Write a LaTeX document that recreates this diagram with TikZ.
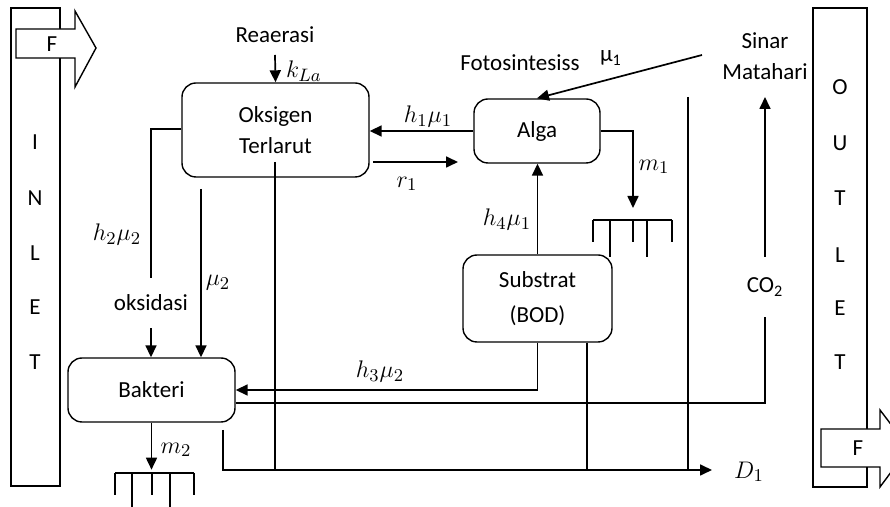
\documentclass[tikz,border=0pt]{standalone}
\usepackage{fontspec}
\setmainfont{Carlito}
\usetikzlibrary{arrows.meta,calc}
\newcommand\myfs{\fontsize{11.5}{15.5}\selectfont}
\newcommand\mymathfs{\fontsize{12.5}{15}\selectfont}
\begin{document}
\begin{tikzpicture}[x=0.5pt,y=-0.5pt,
  ln/.style={line width=0.65pt},
  arr/.style={line width=0.85pt,-{Triangle[length=6pt,width=5.5pt]}},
  box/.style={draw,line width=0.7pt,rounded corners=7pt,align=center,inner sep=0pt,font=\myfs},
  txt/.style={inner sep=0pt,font=\myfs,align=center},
  mth/.style={inner sep=0pt,font=\mymathfs},
  col/.style={draw,line width=0.7pt,inner sep=0pt},
  farrow/.style={draw,line width=0.7pt,fill=white}]
\useasboundingbox (0,0) rectangle (890,507);
% inlet / outlet columns
\node[col,minimum width=24.5pt,minimum height=239pt] (inlet) at (35.5,247) {};
\node[col,minimum width=27pt,minimum height=239.5pt] (outlet) at (840,247.5) {};
\node[txt] (iI) at (35,142) {I};
\node[txt] (iN) at (35,198) {N};
\node[txt] (iL) at (35,253) {L};
\node[txt] (iE) at (35,307) {E};
\node[txt] (iT) at (35,362) {T};
\node[txt] (oO) at (840,87) {O};
\node[txt] (oU) at (840,143) {U};
\node[txt] (oT) at (840,198) {T};
\node[txt] (oL) at (840,255) {L};
\node[txt] (oE) at (840,308) {E};
\node[txt] (oT2) at (840,362) {T};
% F arrows
\draw[farrow] (16,29) -- (75,29) -- (75,11) -- (96,48) -- (75,87) -- (75,58) -- (16,58) -- cycle;
\node[txt] (fin) at (52,44) {F};
\draw[farrow] (821,429) -- (880,429) -- (880,410) -- (909,448) -- (880,487) -- (880,467) -- (821,467) -- cycle;
\node[txt] (fout) at (858,448) {F};
% boxes
\node[box,minimum width=93.5pt,minimum height=47pt] (oks) at (275.5,130) {Oksigen\\Terlarut};
\node[box,minimum width=63pt,minimum height=32pt] (alga) at (537,131) {Alga};
\node[box,minimum width=74.5pt,minimum height=43.5pt] (sub) at (537.5,298.5) {Substrat\\[2pt](BOD)};
\node[box,minimum width=83.5pt,minimum height=32pt] (bak) at (151.5,390) {Bakteri};
% labels
\node[txt] (rea) at (275,35) {Reaerasi};
\node[mth] (kla) at (304,71) {$k_{La}$};
\node[txt] (foto) at (520,63) {Fotosintesiss};
\node[txt] (mu1) at (611,58) {µ\textsubscript{1}};
\node[txt] (sinar) at (765,56) {Sinar\\Matahari};
\node[mth] (h1) at (428,117) {$h_1\mu_1$};
\node[mth] (r1) at (407,184) {$r_1$};
\node[mth] (m1) at (654,167) {$m_1$};
\node[mth] (h4) at (507,220) {$h_4\mu_1$};
\node[mth] (h2) at (117,235) {$h_2\mu_2$};
\node[mth] (mu2) at (218,283) {$\mu_2$};
\node[txt,minimum height=25pt] (oksd) at (151,303) {oksidasi};
\node[mth] (h3) at (380,372) {$h_3\mu_2$};
\node[mth] (m2) at (176,450) {$m_2$};
\node[txt,minimum height=30pt] (co2) at (765,287) {CO\textsubscript{2}};
\node[mth] (d1) at (749,472) {$D_1$};
% free-end coordinates
\coordinate (reaend) at (275,55);
\coordinate (r1a) at (373,162);
\coordinate (r1b) at (458,162);
\coordinate (sun) at (702,55);
\coordinate (v1top) at (688,97);
\coordinate (v1bot) at (688,470);
\coordinate (m1end) at (633,208);
\coordinate (bl3) at (587,470);
\coordinate (sunarr) at (765,97);
\coordinate (mu2top) at (201,189);
\coordinate (oin) at (275,162);
\coordinate (bl1) at (275,470);
\coordinate (b0) at (223,430);
\coordinate (bend) at (712,470);
% connectors
\draw[arr] (reaend) -- (oks.north);
\draw[arr] (alga.west) -- (alga.west -| oks.east);
\draw[arr] (r1a) -- (r1b);
\draw[arr] (sun) -- (alga.north);
\draw[ln] ($(alga.east)+(0,-9)$) -- ($(alga.east)+(0,-9)$ -| v1top);
\draw[ln] (v1top) -- (v1bot);
\draw[arr] (alga.east) -| (m1end);
\draw[arr] (sub.north) -- (sub.north |- alga.south);
\draw[arr] (sub.south) -- (sub.south |- bak.east) -- (bak.east);
\draw[ln] (sub.south -| bl3) -- (bl3);
\draw[ln] ($(bak.east)+(0,13)$) -| (co2.south);
\draw[arr] (co2.north) -- (sunarr);
\draw[ln] ($(oks.west)+(0,-1)$) -| (oksd.north);
\draw[arr] (oksd.south) -- (oksd.south |- bak.north);
\draw[arr] (mu2top) -- (mu2top |- bak.north);
\draw[ln] (oin) -- (bl1);
\draw[arr] (b0) |- (bend);
\draw[arr] (bak.south) -- ++(0,47);
% sediment symbols
\coordinate (s1) at (593,220);
\draw[ln] (s1) -- ++(79,0);
\draw[ln] (s1) -- ++(0,22);
\draw[ln] ($(s1)+(17,0)$) -- ++(0,37);
\draw[ln] ($(s1)+(40,0)$) -- ++(0,22);
\draw[ln] ($(s1)+(54,0)$) -- ++(0,37);
\draw[ln] ($(s1)+(79,0)$) -- ++(0,22);
\coordinate (s2) at (115,473);
\draw[ln] (s2) -- ++(79,0);
\draw[ln] (s2) -- ++(0,22);
\draw[ln] ($(s2)+(17,0)$) -- ++(0,37);
\draw[ln] ($(s2)+(37,0)$) -- ++(0,22);
\draw[ln] ($(s2)+(55,0)$) -- ++(0,37);
\draw[ln] ($(s2)+(79,0)$) -- ++(0,22);
\end{tikzpicture}
\end{document}
